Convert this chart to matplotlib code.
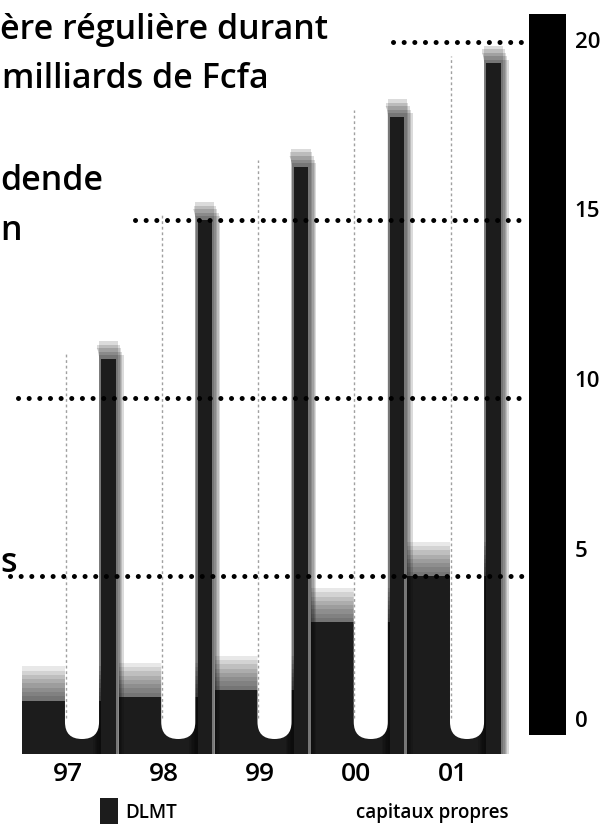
import numpy as np
import matplotlib.pyplot as plt
from matplotlib.patches import FancyBboxPatch, Patch

plt.rcParams['font.family'] = ['Open Sans', 'DejaVu Sans']
plt.rcParams['font.weight'] = 'semibold'

years = ['97', '98', '99', '00', '01']
capitaux = [11.6, 15.5, 17.0, 18.4, 19.9]
dlmt = [1.5, 1.6, 1.8, 3.7, 5.0]
grid_vals = [20, 15, 10, 5]
grid_start = [3.23, 0.55, -0.67, -0.75]
tick_vals = [20, 15, 10, 5, 0]
tick_labels = ['20', '15', '10', '5', '0']

dark = '#1c1c1c'
W, H = 604, 829

fig = plt.figure(figsize=(W / 100, H / 100), dpi=100)
ax = fig.add_axes([0, 0, 1, 1])
ax.set_xlim(-0.852, 5.423)
ax.set_ylim(-2.08, 21.21)
ax.axis('off')

x = np.arange(len(years))
# rapport px/unité en x et en y pour arrondir le bas des tubes
aspect = 96.25 / 35.6
r = 0.177

# DLMT : fond sombre à gauche de chaque tube, bord flou
for k in range(8):
    ax.bar(x - 0.21, [v + 0.12 * (k + 1) for v in dlmt], width=0.82,
           color='black', alpha=0.09, lw=0, zorder=1)
ax.bar(x - 0.21, dlmt, width=0.82, color=dark, zorder=2)

# capitaux propres : ombre droite (floue) + tube blanc
for k in range(5):
    ax.bar(x + 0.275, [v - 0.1 * k for v in capitaux], width=0.17 + 0.03 * (k + 1),
           color='black', alpha=0.14, lw=0, zorder=2)
ax.bar(x + 0.275, [v - 0.5 for v in capitaux], width=0.15, color=dark, zorder=2)
for i, c in enumerate(x):
    tube = FancyBboxPatch((c - r, 0.42), 2 * r, capitaux[i] - 0.42,
                          boxstyle=f'round,pad=0,rounding_size={r}',
                          mutation_aspect=aspect, fc='white', ec='none', zorder=3)
    ax.add_patch(tube)
    ax.plot([c - 0.17, c - 0.17], [1.0, capitaux[i] - 0.3], color='#a0a0a0',
            lw=1, ls=(0, (2, 2)), zorder=4)

# lignes pointillées
for v, s in zip(grid_vals, grid_start):
    ax.plot([s, 4.64], [v, v], color='black', lw=3.6, ls=(0, (0.01, 2.12)),
            dash_capstyle='round', zorder=5)

# barre noire de l'axe
ax.bar(4.836, 20.26, bottom=0.53, width=0.385, color='black', zorder=6)
for v, lab in zip(tick_vals, tick_labels):
    ax.text(5.12, 0.93 + v * 0.955, lab, fontsize=16, ha='left', va='center')

for c, lab in zip(x, years):
    ax.text(c - 0.15, -0.55, lab, fontsize=19, ha='center', va='center')

# texte coupé à gauche
def px(xp, yp):
    return xp / W, 1 - yp / H

fig.text(*px(0, 39), 'ère régulière durant', fontsize=24.5, va='baseline')
fig.text(*px(2, 88), 'milliards de Fcfa', fontsize=24.5, va='baseline')
fig.text(*px(0, 190), 'dende', fontsize=24.5, va='baseline')
fig.text(*px(0, 240), 'n', fontsize=24.5, va='baseline')
fig.text(*px(0, 572), 's', fontsize=24.5, va='baseline')

handles = [Patch(fc=dark, ec='none'), Patch(fc='white', ec='none')]
fig.legend(handles, ['DLMT', 'capitaux propres'], ncol=2, frameon=False,
           loc='center left', bbox_to_anchor=px(100, 812), fontsize=13.5,
           handlelength=0.95, handleheight=1.8, handletextpad=0.4,
           columnspacing=8.2, borderpad=0, borderaxespad=0)

fig.savefig('out.png', dpi=100)
